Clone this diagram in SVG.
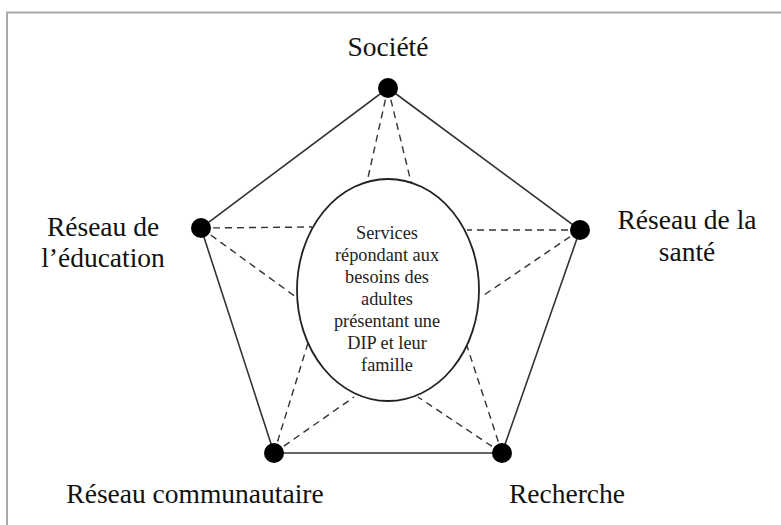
<svg xmlns="http://www.w3.org/2000/svg" width="781" height="525" viewBox="0 0 781 525">
<style>
.lbl{font-family:"Liberation Serif","Times New Roman",serif;font-size:27.5px;fill:#111;text-anchor:middle}
.in{font-family:"Liberation Serif","Times New Roman",serif;font-size:18.3px;fill:#222;text-anchor:middle}
.solid{fill:none;stroke:#333;stroke-width:1.6}
.dash{fill:none;stroke:#333;stroke-width:1.4;stroke-dasharray:7,5}
.dot{fill:#000}
</style>
<rect width="781" height="525" fill="#fff"/>
<path d="M7,525 V12.5 H781" fill="none" stroke="#aaa" stroke-width="2"/>
<g id="connectors">
<polygon class="solid" points="388,88 580,230 502,453 274,453 201,228"/>
<line class="dash" x1="388" y1="88" x2="367" y2="182"/>
<line class="dash" x1="388" y1="88" x2="411" y2="182"/>
<line class="dash" x1="201" y1="228" x2="312" y2="227"/>
<line class="dash" x1="201" y1="228" x2="296" y2="297"/>
<line class="dash" x1="580" y1="230" x2="467" y2="230"/>
<line class="dash" x1="580" y1="230" x2="481" y2="297"/>
<line class="dash" x1="274" y1="453" x2="308" y2="343"/>
<line class="dash" x1="274" y1="453" x2="354" y2="397"/>
<line class="dash" x1="502" y1="453" x2="467" y2="346"/>
<line class="dash" x1="502" y1="453" x2="418" y2="397"/>
</g>
<g id="center">
<ellipse cx="388" cy="290" rx="91" ry="111" fill="#fff" stroke="#222" stroke-width="1.8"/>
<text class="in" x="387" y="239">Services</text>
<text class="in" x="387" y="261">répondant aux</text>
<text class="in" x="387" y="283">besoins des</text>
<text class="in" x="387" y="305">adultes</text>
<text class="in" x="387" y="327">présentant une</text>
<text class="in" x="387" y="349">DIP et leur</text>
<text class="in" x="387" y="371">famille</text>
</g>
<g id="societe">
<circle class="dot" cx="388" cy="88" r="10"/>
<text class="lbl" x="388" y="56">Société</text>
</g>
<g id="sante">
<circle class="dot" cx="580" cy="230" r="10"/>
<text class="lbl" x="687" y="229">Réseau de la</text>
<text class="lbl" x="687" y="261">santé</text>
</g>
<g id="recherche">
<circle class="dot" cx="502" cy="453" r="10"/>
<text class="lbl" x="567" y="503">Recherche</text>
</g>
<g id="communautaire">
<circle class="dot" cx="274" cy="453" r="10"/>
<text class="lbl" x="195" y="503">Réseau communautaire</text>
</g>
<g id="education">
<circle class="dot" cx="201" cy="228" r="10"/>
<text class="lbl" x="103" y="236">Réseau de</text>
<text class="lbl" x="103" y="267">l’éducation</text>
</g>
</svg>
